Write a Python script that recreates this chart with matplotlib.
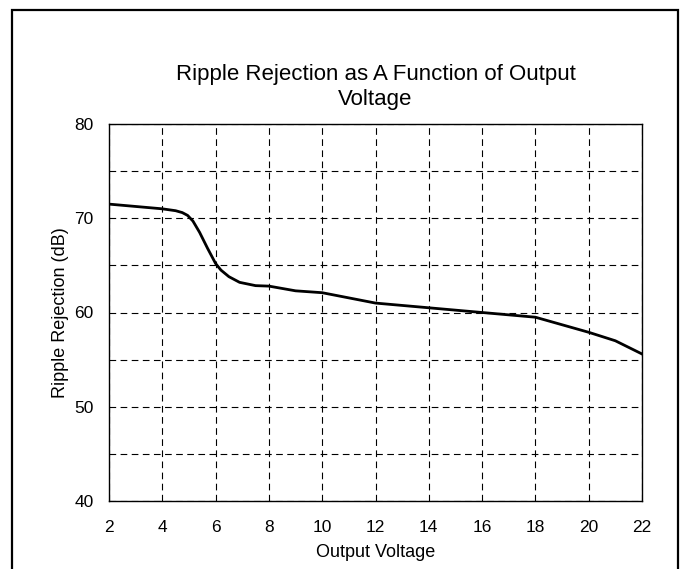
import matplotlib
matplotlib.use("Agg")
import matplotlib.pyplot as plt
from matplotlib.patches import Rectangle
import numpy as np

plt.rcParams['font.family'] = ['Liberation Sans', 'DejaVu Sans']

voltage = [2, 3, 4, 4.5, 4.75, 4.95, 5.15, 5.4, 5.7, 6.0, 6.2, 6.5, 6.9, 7.5, 8, 9, 10, 12, 14, 16, 18, 19, 20, 21, 22]
rejection = [71.5, 71.25, 71.0, 70.8, 70.6, 70.3, 69.7, 68.5, 66.8, 65.2, 64.5, 63.8, 63.2, 62.85, 62.8, 62.3, 62.1, 61.0, 60.5, 60.0, 59.5, 58.7, 57.9, 57.0, 55.6]
x_ticks = [2, 4, 6, 8, 10, 12, 14, 16, 18, 20, 22]
y_ticks = [40, 50, 60, 70, 80]
y_minor = [45, 55, 65, 75]

W, H = 683, 569
fig = plt.figure(figsize=(W / 100, H / 100), dpi=100)
ax = fig.add_axes([109 / W, 1 - 501 / H, (642 - 109) / W, (501 - 124) / H])

ax.plot(voltage, rejection, color='black', lw=2.0, solid_joinstyle='round')
ax.set_xlim(2, 22)
ax.set_ylim(40, 80)
ax.set_xticks(x_ticks)
ax.set_yticks(y_ticks)
ax.set_yticks(y_minor, minor=True)
ax.grid(True, which='both', color='black', linestyle=(0, (6, 4)), lw=0.8)
ax.tick_params(which='both', length=0, labelsize=12.5)
ax.tick_params(axis='x', pad=14)
ax.tick_params(axis='y', pad=11)
for s in ax.spines.values():
    s.set_linewidth(1.0)

ax.set_xlabel('Output Voltage', fontsize=13, labelpad=6)
ax.set_ylabel('Ripple Rejection (dB)', fontsize=13, labelpad=4)
ax.set_title('Ripple Rejection as A Function of Output\nVoltage', fontsize=16, pad=14, linespacing=1.2)

fig.patches.append(Rectangle((12 / W, -0.05), (678 - 12) / W, 1.05 - 10 / H,
                             transform=fig.transFigure, fill=False,
                             edgecolor='black', lw=1.6))

fig.savefig('out.png', dpi=100)
